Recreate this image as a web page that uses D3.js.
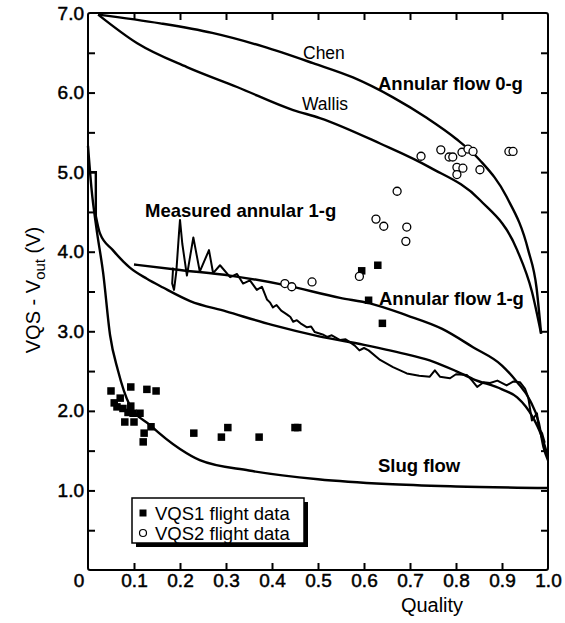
<!DOCTYPE html>
<html>
<head>
<meta charset="utf-8">
<script src="https://cdn.jsdelivr.net/npm/d3@7"></script>
<style>
  html, body { margin: 0; padding: 0; background: #fff; }
  svg { display: block; font-family: "Liberation Sans", Arial, sans-serif; }
</style>
</head>
<body>
<svg id="chart" width="565" height="623"></svg>
<script>
// Quality vs. VQS - Vout: flow-regime models, measured 1-g trace and flight data

// Annular flow 0-g models
const chen = [[0.022,6.98],[0.157,6.87],[0.27,6.75],[0.38,6.58],[0.489,6.37],[0.576,6.19],[0.663,5.94],[0.737,5.68],[0.80,5.42],[0.852,5.15],[0.91,4.69],[0.957,4.02],[0.975,3.55],[0.985,2.97]];
const wallis = [[0.022,6.98],[0.107,6.62],[0.215,6.32],[0.324,6.07],[0.446,5.78],[0.504,5.68],[0.635,5.36],[0.743,5.06],[0.852,4.65],[0.933,4.02],[0.965,3.5],[0.985,2.97]];

// Annular flow 1-g models
const annular1gUpper = [[0.1,3.84],[0.2,3.77],[0.309,3.7],[0.428,3.58],[0.548,3.42],[0.613,3.35],[0.693,3.2],[0.77,3.03],[0.837,2.8],[0.9,2.57],[0.933,2.36],[0.96,2.14],[0.98,1.85],[0.99,1.55],[1.0,1.38]];
const annular1gStep = [[0.0,5.0],[0.017,5.0],[0.017,4.45]];
const annular1gLower = [[0.017,4.45],[0.026,4.23],[0.054,4.02],[0.091,3.8],[0.128,3.66],[0.163,3.55],[0.222,3.38],[0.3,3.25],[0.4,3.08],[0.5,2.94],[0.6,2.83],[0.7,2.7],[0.75,2.62],[0.8,2.5],[0.837,2.4],[0.9,2.27],[0.933,2.17],[0.967,1.92],[0.985,1.7],[1.0,1.42]];

// Slug flow model
const slug = [[0.0,5.33],[0.008,4.77],[0.018,4.31],[0.033,3.73],[0.048,2.95],[0.065,2.51],[0.09,2.08],[0.135,1.82],[0.2,1.52],[0.243,1.38],[0.35,1.25],[0.5,1.14],[0.65,1.08],[0.8,1.05],[1.0,1.03]];

// Measured annular 1-g trace
const measured = [[0.185,3.8],[0.183,3.6],[0.187,3.52],[0.192,3.75],[0.198,4.25],[0.2,4.4],[0.205,4.1],[0.215,3.7],[0.229,4.18],[0.243,3.75],[0.263,4.02],[0.272,3.73],[0.287,3.83],[0.309,3.68],[0.324,3.72],[0.337,3.6],[0.352,3.64],[0.367,3.52],[0.378,3.56],[0.389,3.4],[0.396,3.36],[0.402,3.3],[0.41,3.33],[0.42,3.26],[0.433,3.21],[0.44,3.18],[0.446,3.12],[0.454,3.14],[0.462,3.1],[0.476,3.05],[0.485,3.06],[0.493,2.99],[0.51,2.96],[0.52,2.93],[0.53,2.95],[0.548,2.89],[0.56,2.9],[0.57,2.86],[0.58,2.82],[0.59,2.76],[0.6,2.79],[0.61,2.76],[0.635,2.64],[0.663,2.55],[0.693,2.47],[0.72,2.44],[0.743,2.43],[0.754,2.51],[0.765,2.43],[0.787,2.41],[0.8,2.46],[0.824,2.45],[0.835,2.38],[0.846,2.3],[0.86,2.36],[0.874,2.35],[0.89,2.38],[0.91,2.32],[0.925,2.37],[0.939,2.36],[0.95,2.28],[0.957,2.17],[0.965,1.88],[0.976,1.97],[0.98,1.78],[0.987,1.72],[0.993,1.6]];

// Flight data
const vqs1 = [[0.05,2.25],[0.093,2.3],[0.128,2.27],[0.148,2.25],[0.07,2.16],[0.057,2.1],[0.063,2.05],[0.076,2.03],[0.093,2.06],[0.087,1.98],[0.098,1.97],[0.113,1.97],[0.08,1.86],[0.1,1.86],[0.122,1.72],[0.137,1.8],[0.12,1.61],[0.23,1.72],[0.29,1.67],[0.304,1.79],[0.372,1.67],[0.45,1.79],[0.456,1.79],[0.595,3.76],[0.63,3.83],[0.61,3.39],[0.64,3.1]];
const vqs2 = [[0.724,5.2],[0.767,5.28],[0.785,5.19],[0.793,5.19],[0.813,5.25],[0.826,5.29],[0.837,5.26],[0.802,5.06],[0.815,5.05],[0.802,4.97],[0.852,5.03],[0.915,5.26],[0.924,5.26],[0.672,4.76],[0.626,4.41],[0.643,4.32],[0.693,4.31],[0.691,4.13],[0.428,3.6],[0.443,3.56],[0.487,3.62],[0.59,3.69]];

// Axis ticks
const xTicks = [0.1,0.2,0.3,0.4,0.5,0.6,0.7,0.8,0.9,1.0];
const yTicks = [0.5,1,1.5,2,2.5,3,3.5,4,4.5,5,5.5,6,6.5,7];

const svg = d3.select("#chart");
const plotL = 88, plotR = 548, plotT = 13, plotB = 570;
const x = d3.scaleLinear().domain([0, 1]).range([plotL, plotR]);
const y = d3.scaleLinear().domain([0, 7]).range([plotB, plotT]);

const smooth = d3.line().x(d => x(d[0])).y(d => y(d[1])).curve(d3.curveMonotoneX);
const straight = d3.line().x(d => x(d[0])).y(d => y(d[1]));

const TICK = 7;
const fmt = d => d3.format(".1f")(d);

// axes with inward ticks
const gx = svg.append("g").attr("transform", `translate(0,${plotB})`)
  .call(d3.axisBottom(x).tickValues(xTicks).tickSizeInner(-TICK).tickSizeOuter(0).tickPadding(4).tickFormat(fmt));
const gxt = svg.append("g").attr("transform", `translate(0,${plotT})`)
  .call(d3.axisTop(x).tickValues(xTicks.filter(v => v < 1)).tickSizeInner(-TICK).tickSizeOuter(0).tickFormat(""));
const gy = svg.append("g").attr("transform", `translate(${plotL},0)`)
  .call(d3.axisLeft(y).tickValues(yTicks).tickSizeInner(-TICK).tickSizeOuter(0).tickPadding(4)
    .tickFormat(d => Number.isInteger(d) ? fmt(d) : ""));
const gyr = svg.append("g").attr("transform", `translate(${plotR},0)`)
  .call(d3.axisRight(y).tickValues(yTicks.filter(v => v < 7)).tickSizeInner(-TICK).tickSizeOuter(0).tickFormat(""));

[gx, gxt, gy, gyr].forEach(g => {
  g.select(".domain").remove();
  g.selectAll(".tick line").attr("stroke", "#000").attr("stroke-width", 2);
  g.selectAll(".tick text").attr("font-size", 19).attr("fill", "#000")
    .attr("font-family", "'Liberation Sans', Arial, sans-serif")
    .attr("stroke", "#000").attr("stroke-width", 0.5);
});
gx.selectAll(".tick line").filter(d => d === 1).remove();
gy.selectAll(".tick line").filter(d => d === 7).remove();

// origin label
svg.append("text").attr("x", 79).attr("y", 587).attr("text-anchor", "middle")
  .attr("font-size", 19).attr("stroke", "#000").attr("stroke-width", 0.5).text("0");

// frame
svg.append("rect").attr("x", plotL).attr("y", plotT).attr("width", plotR - plotL).attr("height", plotB - plotT)
  .attr("rx", 2).attr("fill", "none").attr("stroke", "#000").attr("stroke-width", 2);

// model curves
const curves = [chen, wallis, annular1gUpper, annular1gLower, slug];
svg.append("g").selectAll("path").data(curves).join("path")
  .attr("d", smooth).attr("fill", "none").attr("stroke", "#000").attr("stroke-width", 2.4)
  .attr("stroke-linejoin", "round");
svg.append("path").attr("d", straight(annular1gStep)).attr("fill", "none")
  .attr("stroke", "#000").attr("stroke-width", 2.4);

// measured trace
svg.append("path").attr("d", straight(measured)).attr("fill", "none")
  .attr("stroke", "#000").attr("stroke-width", 2).attr("stroke-linejoin", "round");

// flight data
const SQ = 7.5;
svg.append("g").selectAll("rect").data(vqs1).join("rect")
  .attr("x", d => x(d[0]) - SQ / 2).attr("y", d => y(d[1]) - SQ / 2)
  .attr("width", SQ).attr("height", SQ).attr("fill", "#000");
svg.append("g").selectAll("circle").data(vqs2).join("circle")
  .attr("cx", d => x(d[0])).attr("cy", d => y(d[1])).attr("r", 4)
  .attr("fill", "#fff").attr("stroke", "#000").attr("stroke-width", 1.3);

// curve labels
const labels = [
  { t: "Chen", x: 303, y: 59, bold: false, size: 17.5 },
  { t: "Wallis", x: 302, y: 110, bold: false, size: 17.5 },
  { t: "Annular flow 0-g", x: 378, y: 90, bold: true, size: 18.5 },
  { t: "Measured annular 1-g", x: 145, y: 217, bold: true, size: 18.5 },
  { t: "Annular flow 1-g", x: 379, y: 305, bold: true, size: 18.5 },
  { t: "Slug flow", x: 378, y: 472, bold: true, size: 18.5 }
];
svg.append("g").selectAll("text").data(labels).join("text")
  .attr("x", d => d.x).attr("y", d => d.y).attr("font-size", d => d.size)
  .attr("font-weight", d => d.bold ? "bold" : "normal").text(d => d.t);

// axis titles
svg.append("text").attr("x", 432).attr("y", 612).attr("text-anchor", "middle")
  .attr("font-size", 20).text("Quality");
const yt = svg.append("text").attr("transform", "translate(40,290) rotate(-90)")
  .attr("text-anchor", "middle").attr("font-size", 20);
yt.append("tspan").text("VQS - V");
yt.append("tspan").attr("font-size", 15).attr("dy", 5).text("out");
yt.append("tspan").attr("dy", -5).text(" (V)");

// legend
const lg = svg.append("g");
lg.append("rect").attr("x", 136).attr("y", 502).attr("width", 172).attr("height", 45).attr("fill", "#000");
lg.append("rect").attr("x", 132).attr("y", 498).attr("width", 172).attr("height", 45)
  .attr("fill", "#fff").attr("stroke", "#000").attr("stroke-width", 1.5);
lg.append("rect").attr("x", 143 - 3.5).attr("y", 513 - 3.5).attr("width", 7).attr("height", 7).attr("fill", "#000");
lg.append("circle").attr("cx", 143).attr("cy", 533).attr("r", 3.5).attr("fill", "#fff")
  .attr("stroke", "#000").attr("stroke-width", 1.2);
lg.append("text").attr("x", 155).attr("y", 520).attr("font-size", 18.5).text("VQS1 flight data");
lg.append("text").attr("x", 155).attr("y", 540).attr("font-size", 18.5).text("VQS2 flight data");
</script>
</body>
</html>
